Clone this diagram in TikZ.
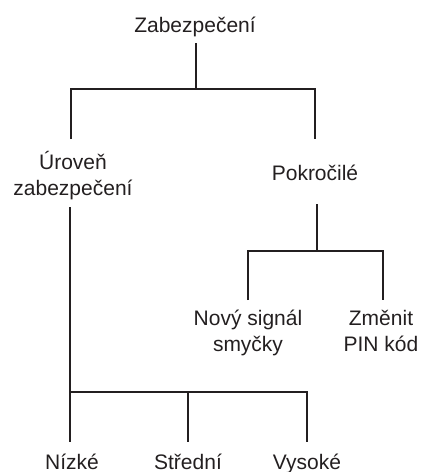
\documentclass[tikz,border=0pt]{standalone}
\usepackage{fontspec}
\setmainfont{Liberation Sans}
\definecolor{ink}{HTML}{231F20}
\tikzset{
  lbl/.style={font=\fontsize{21}{26}\selectfont, align=center, inner sep=0pt, anchor=base, text=ink},
  conn/.style={draw=ink, line width=2.8pt, line join=miter, line cap=butt}
}
\begin{document}
\begin{tikzpicture}[x=1pt,y=-1pt]
\useasboundingbox (0,0) rectangle (421,472);
% labels (anchor=base is the baseline of the last line)
\node[lbl] (root) at (195,32) {Zabezpečení};
\node[lbl] (uro) at (73,195) {Úroveň\\zabezpečení};
\node[lbl] (pok) at (315,180) {Pokročilé};
\node[lbl] (novy) at (248,351) {Nový signál\\smyčky};
\node[lbl] (zmen) at (381,351) {Změnit\\PIN kód};
\node[lbl] (niz) at (72,469) {Nízké};
\node[lbl] (stre) at (188,469) {Střední};
\node[lbl] (vys) at (307,469) {Vysoké};
% connector points
\coordinate (rootB) at (196,43);
\coordinate (rootJ) at (196,89);
\coordinate (uroT) at (71,139);
\coordinate (uroJ) at (71,89);
\coordinate (pokJ) at (315,89);
\coordinate (pokT) at (315,139);
\coordinate (pokB) at (317,204);
\coordinate (pokJ2) at (317,251);
\coordinate (novyJ) at (248,251);
\coordinate (novyT) at (248,300);
\coordinate (zmenJ) at (383,251);
\coordinate (zmenT) at (383,300);
\coordinate (uroB) at (70,207);
\coordinate (nizJ) at (70,392);
\coordinate (nizT) at (70,442);
\coordinate (streJ) at (188,392);
\coordinate (streT) at (188,442);
\coordinate (vysJ) at (307,392);
\coordinate (vysT) at (307,442);
% connectors
\draw[conn] (rootB) -- (rootJ);
\draw[conn] (uroT) -- (uroJ) -- (pokJ) -- (pokT);
\draw[conn] (pokB) -- (pokJ2);
\draw[conn] (novyT) -- (novyJ) -- (zmenJ) -- (zmenT);
\draw[conn] (uroB) -- (nizT);
\draw[conn] (nizJ) -- (vysJ) -- (vysT);
\draw[conn] (streJ) -- (streT);
\end{tikzpicture}
\end{document}
